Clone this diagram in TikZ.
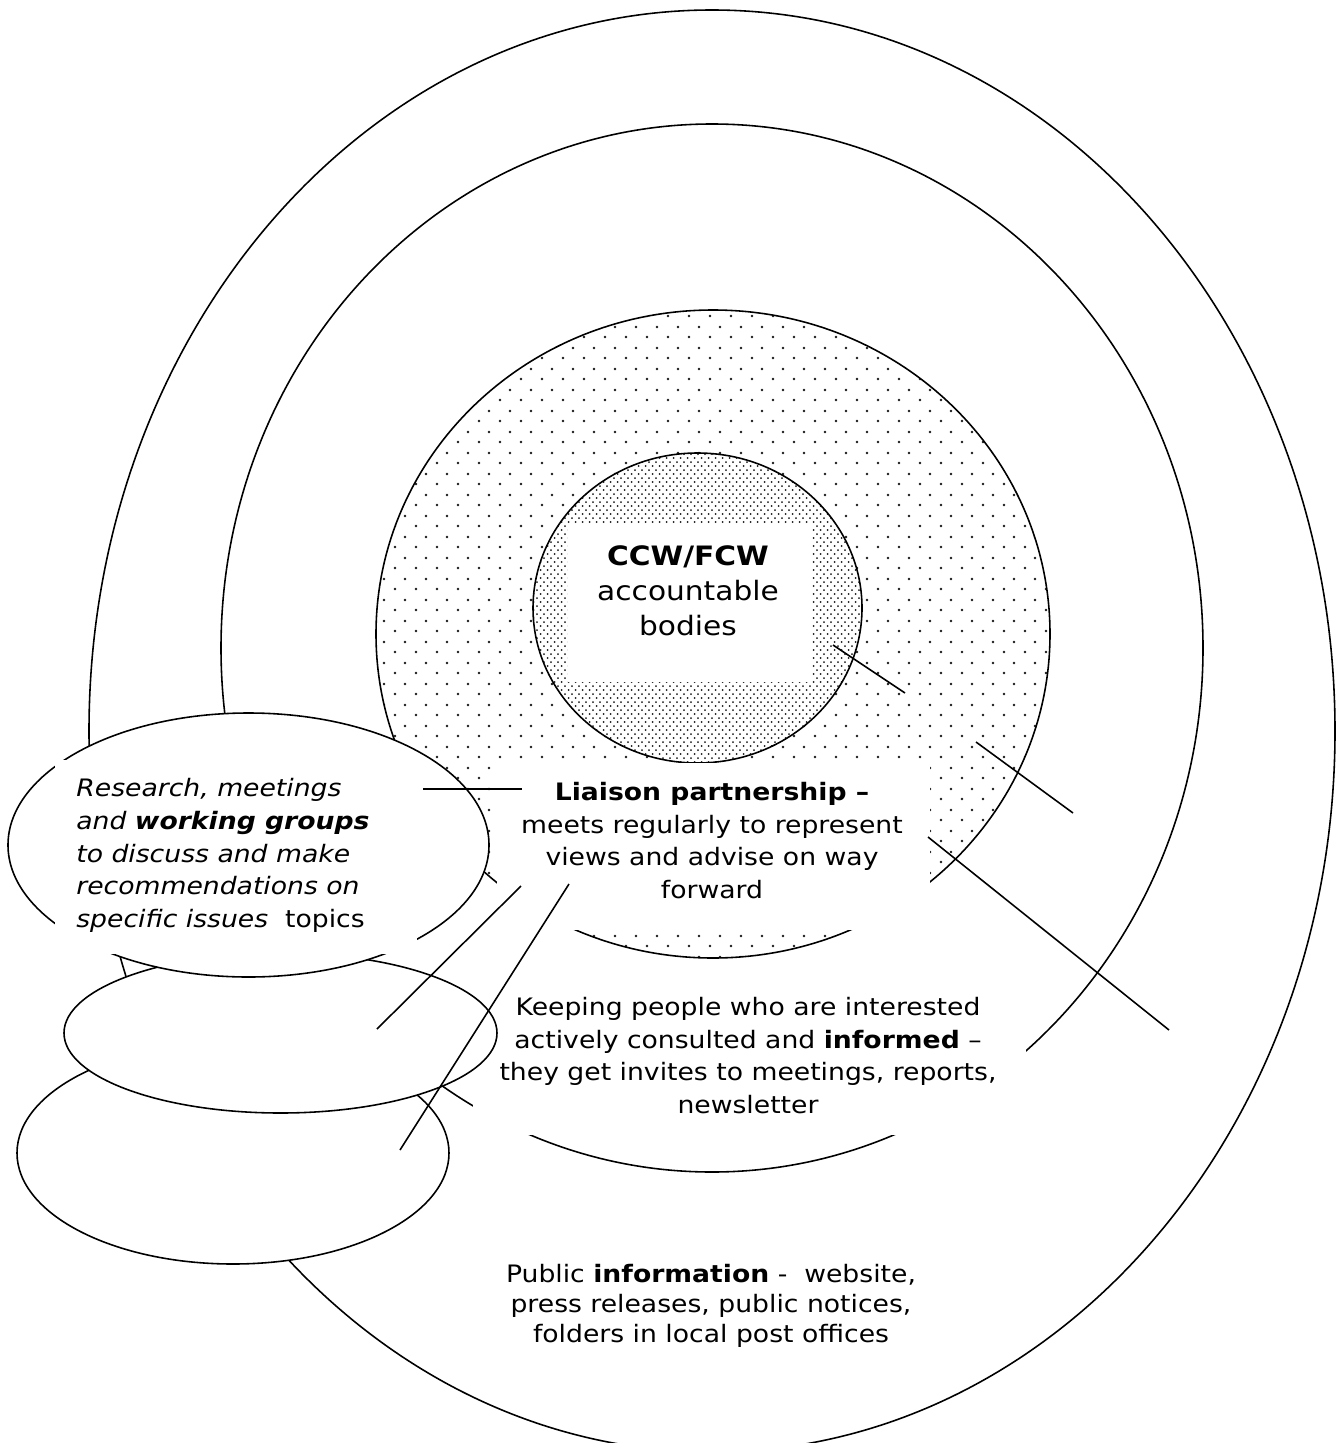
\documentclass[tikz,border=0pt]{standalone}
\usepackage{fontspec}
\setmainfont{DejaVu Sans}[FakeStretch=1.11]
\usetikzlibrary{patterns.meta}

\tikzdeclarepattern{
  name=sparsedots,
  type=uncolored,
  bounding box={(0pt,0pt) and (11.67pt,11.67pt)},
  tile size={(11.67pt,11.67pt)},
  code={
    \fill (2.92pt,2.92pt) circle [radius=0.8pt];
    \fill (8.75pt,8.75pt) circle [radius=0.8pt];
  }
}
\tikzdeclarepattern{
  name=densedots,
  type=uncolored,
  bounding box={(0pt,0pt) and (4.15pt,4.78pt)},
  tile size={(4.15pt,4.78pt)},
  code={
    \fill (1.04pt,1.2pt) circle [radius=0.6pt];
    \fill (3.11pt,3.59pt) circle [radius=0.6pt];
  }
}

\begin{document}
\begin{tikzpicture}[x=0.02cm, y=-0.02cm,
    ring/.style={draw=black, line width=0.9pt, fill=white},
    dotring/.style={draw=black, line width=0.9pt, preaction={fill=white},
      pattern=#1, pattern color=black!90},
    cover/.style={fill=white, draw=none},
    callout/.style={draw=black, line width=0.9pt},
    label/.style={inner sep=0pt, font=\fontsize{13.66}{18.5}\selectfont}]
  \useasboundingbox (0,0) rectangle (1336,1443);
  \clip (0,0) rectangle (1336,1443);
  \fill[white] (0,0) rectangle (1336,1443);

  % rings
  \draw[ring] (712,731) ellipse [x radius=623, y radius=721];
  \draw[ring] (712,648) ellipse [x radius=491, y radius=524];
  \draw[dotring=sparsedots] (713,634) ellipse [x radius=337, y radius=324];
  \draw[dotring=densedots] (697.5,608) ellipse [x radius=164.5, y radius=155];

  % centre
  \fill[cover] (568,525) rectangle (812,682);
  \node[label, font=\fontsize{15.2}{19.9}\selectfont, align=center, anchor=base]
    (core) at (688,635) {\textbf{CCW/FCW}\\accountable\\bodies};

  % text boxes on the rings
  \fill[cover] (497,763) rectangle (930,930);
  \node[label, align=center, anchor=base] (liaison) at (712,898)
    {\textbf{Liaison partnership –}\\meets regularly to represent\\views and advise on way\\forward};
  \fill[cover] (473,962) rectangle (1026,1135);
  \node[label, align=center, anchor=base] (keeping) at (748,1113)
    {Keeping people who are interested\\actively consulted and \textbf{informed} –\\they get invites to meetings, reports,\\newsletter};
  \node[label, font=\fontsize{13.66}{17.07}\selectfont, align=center, anchor=base]
    (public) at (711,1342)
    {Public \textbf{information} -~~website,\\press releases, public notices,\\folders in local post offices};

  % stacked ellipses on the left
  \draw[ring] (233,1153) ellipse [x radius=216, y radius=111];
  \draw[ring] (280.5,1033) ellipse [x radius=216.5, y radius=80];
  \draw[ring] (248.5,845) ellipse [x radius=240.5, y radius=132];
  \fill[cover] (55,760) rectangle (417,954);
  \node[label, font=\fontsize{13.66}{18.5}\selectfont\itshape, align=left, anchor=base west]
    (research) at (76,927)
    {Research, meetings\\and \textbf{working groups}\\to discuss and make\\recommendations on\\specific issues\ \ {\upshape topics}};

  % callout lines
  \coordinate (h1) at (423,789);   \coordinate (h2) at (522,789);
  \coordinate (m1) at (377,1029);  \coordinate (m2) at (521,886);
  \coordinate (l1) at (400,1150);  \coordinate (l2) at (569,884);
  \coordinate (a1) at (833,645);   \coordinate (a2) at (905,693);
  \coordinate (b1) at (976,742);   \coordinate (b2) at (1073,813);
  \coordinate (c1) at (928,837);   \coordinate (c2) at (1169,1030);
  \foreach \p in {h,m,l,a,b,c}
    \draw[callout] (\p1) -- (\p2);
\end{tikzpicture}
\end{document}
